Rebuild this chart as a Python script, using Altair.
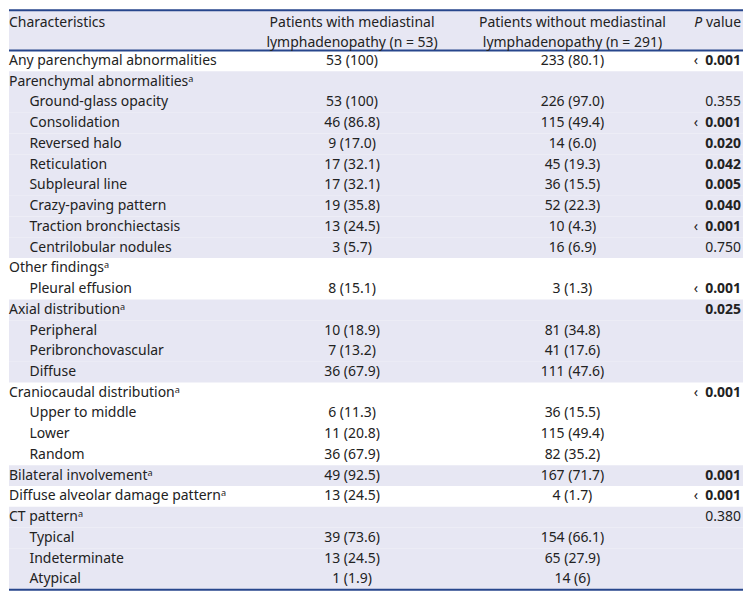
import altair as alt
import pandas as pd

# ---------------- data ----------------
labels = [
    "Any parenchymal abnormalities",
    "Parenchymal abnormalitiesᵃ",
    "Ground-glass opacity",
    "Consolidation",
    "Reversed halo",
    "Reticulation",
    "Subpleural line",
    "Crazy-paving pattern",
    "Traction bronchiectasis",
    "Centrilobular nodules",
    "Other findingsᵃ",
    "Pleural effusion",
    "Axial distributionᵃ",
    "Peripheral",
    "Peribronchovascular",
    "Diffuse",
    "Craniocaudal distributionᵃ",
    "Upper to middle",
    "Lower",
    "Random",
    "Bilateral involvementᵃ",
    "Diffuse alveolar damage patternᵃ",
    "CT patternᵃ",
    "Typical",
    "Indeterminate",
    "Atypical",
]
indent = [0, 0, 1, 1, 1, 1, 1, 1, 1, 1, 0, 1, 0, 1, 1, 1, 0, 1, 1, 1, 0, 0, 0, 1, 1, 1]
with_lad = [
    "53 (100)", "", "53 (100)", "46 (86.8)", "9 (17.0)", "17 (32.1)", "17 (32.1)",
    "19 (35.8)", "13 (24.5)", "3 (5.7)", "", "8 (15.1)", "", "10 (18.9)", "7 (13.2)",
    "36 (67.9)", "", "6 (11.3)", "11 (20.8)", "36 (67.9)", "49 (92.5)", "13 (24.5)",
    "", "39 (73.6)", "13 (24.5)", "1 (1.9)",
]
without_lad = [
    "233 (80.1)", "", "226 (97.0)", "115 (49.4)", "14 (6.0)", "45 (19.3)", "36 (15.5)",
    "52 (22.3)", "10 (4.3)", "16 (6.9)", "", "3 (1.3)", "", "81 (34.8)", "41 (17.6)",
    "111 (47.6)", "", "36 (15.5)", "115 (49.4)", "82 (35.2)", "167 (71.7)", "4 (1.7)",
    "", "154 (66.1)", "65 (27.9)", "14 (6)",
]
p_values = [
    "0.001", "", "0.355", "0.001", "0.020", "0.042", "0.005", "0.040", "0.001", "0.750",
    "", "0.001", "0.025", "", "", "", "0.001", "", "", "", "0.001", "0.001", "0.380",
    "", "", "",
]
p_bold = [1, 0, 0, 1, 1, 1, 1, 1, 1, 0, 0, 1, 1, 0, 0, 0, 1, 0, 0, 0, 1, 1, 0, 0, 0, 0]
p_less = [1, 0, 0, 1, 0, 0, 0, 0, 1, 0, 0, 1, 0, 0, 0, 0, 1, 0, 0, 0, 0, 1, 0, 0, 0, 0]
group = [0, 1, 1, 1, 1, 1, 1, 1, 1, 1, 2, 2, 3, 3, 3, 3, 4, 4, 4, 4, 5, 6, 7, 7, 7, 7]

header_c1 = "Characteristics"
header_c2 = ["Patients with mediastinal", "lymphadenopathy (n = 53)"]
header_c3 = ["Patients without mediastinal", "lymphadenopathy (n = 291)"]
header_p = ["P", "value"]

# ---------------- layout / style ----------------
W, H = 736, 583
FONT = "Noto Sans"
FS = 14
TXT = "#222222"
LINE = "#27468c"
SHADE = "#e7e7f3"

TOP, BOT = -2.463, 25.568
HEAD_TOP, HEAD_BOT, TABLE_BOT = -2.439, -0.5, 25.5
HEAD_L1, HEAD_L2 = -1.82, -0.88

X_LABEL, X_INDENT = 0, 20.5
X_C2, X_C3, X_P = 344, 565, 734

df = pd.DataFrame({
    "row": list(range(len(labels))),
    "label": labels,
    "indent": indent,
    "with_lad": with_lad,
    "without_lad": without_lad,
    "p": p_values,
    "p_bold": p_bold,
    "p_less": p_less,
    "group": group,
})

yscale = alt.Scale(domain=[TOP, BOT], reverse=True, nice=False, zero=False)
base = alt.Chart(df)

shade_rows = base.transform_filter("datum.group % 2 == 1").transform_calculate(
    y0="datum.row - 0.5", y1="datum.row + 0.5"
).mark_rect(color=SHADE).encode(
    y=alt.Y("y0:Q", scale=yscale, axis=None),
    y2="y1:Q",
    x=alt.value(0),
    x2=alt.value(W),
)

head_df = pd.DataFrame({"y0": [HEAD_TOP], "y1": [HEAD_BOT]})
shade_head = alt.Chart(head_df).mark_rect(color=SHADE).encode(
    y=alt.Y("y0:Q", scale=yscale, axis=None), y2="y1:Q",
    x=alt.value(0), x2=alt.value(W),
)

rules_df = pd.DataFrame({"y": [HEAD_TOP, HEAD_BOT, TABLE_BOT]})
rules = alt.Chart(rules_df).mark_rule(color=LINE, strokeWidth=2).encode(
    y=alt.Y("y:Q", scale=yscale, axis=None),
    x=alt.value(0), x2=alt.value(W),
)

txt = dict(font=FONT, fontSize=FS, color=TXT, baseline="middle")

label_text = base.transform_calculate(
    xpos=f"datum.indent ? {X_INDENT} : {X_LABEL}"
).mark_text(align="left", **txt).encode(
    y=alt.Y("row:Q", scale=yscale, axis=None),
    x=alt.X("xpos:Q", scale=None),
    text="label:N",
)

c2_text = base.mark_text(align="center", **txt).encode(
    y=alt.Y("row:Q", scale=yscale, axis=None), x=alt.value(X_C2), text="with_lad:N"
)
c3_text = base.mark_text(align="center", **txt).encode(
    y=alt.Y("row:Q", scale=yscale, axis=None), x=alt.value(X_C3), text="without_lad:N"
)
p_norm = base.transform_filter("datum.p_bold == 0").mark_text(align="right", **txt).encode(
    y=alt.Y("row:Q", scale=yscale, axis=None), x=alt.value(X_P), text="p:N"
)
p_strong = base.transform_filter("datum.p_bold == 1").mark_text(
    align="right", fontWeight="bold", **txt
).encode(
    y=alt.Y("row:Q", scale=yscale, axis=None), x=alt.value(X_P), text="p:N"
)
p_lt = base.transform_filter("datum.p_less == 1").mark_text(
    align="right", font=FONT, fontSize=FS, color=TXT, baseline="middle"
).encode(
    y=alt.Y("row:Q", scale=yscale, axis=None), x=alt.value(X_P - 43), text=alt.value("‹")
)

hdr = pd.DataFrame({
    "y": [HEAD_L1, HEAD_L1, HEAD_L2, HEAD_L1, HEAD_L2],
    "t": [header_c1, header_c2[0], header_c2[1], header_c3[0], header_c3[1]],
    "col": [0, 1, 1, 2, 2],
})
hdr_left = alt.Chart(hdr).transform_filter("datum.col == 0").mark_text(align="left", **txt).encode(
    y=alt.Y("y:Q", scale=yscale, axis=None), x=alt.value(X_LABEL), text="t:N"
)
hdr_c2 = alt.Chart(hdr).transform_filter("datum.col == 1").mark_text(align="center", **txt).encode(
    y=alt.Y("y:Q", scale=yscale, axis=None), x=alt.value(X_C2), text="t:N"
)
hdr_c3 = alt.Chart(hdr).transform_filter("datum.col == 2").mark_text(align="center", **txt).encode(
    y=alt.Y("y:Q", scale=yscale, axis=None), x=alt.value(X_C3), text="t:N"
)
hp = pd.DataFrame({"y": [HEAD_L1], "p": [header_p[0]], "v": [header_p[1]]})
hdr_pv = alt.Chart(hp).mark_text(align="right", **txt).encode(
    y=alt.Y("y:Q", scale=yscale, axis=None), x=alt.value(X_P), text="v:N"
)
hdr_pp = alt.Chart(hp).mark_text(align="right", fontStyle="italic", **txt).encode(
    y=alt.Y("y:Q", scale=yscale, axis=None), x=alt.value(X_P - 39), text="p:N"
)

chart = alt.layer(
    shade_head, shade_rows, rules, label_text, c2_text, c3_text,
    p_norm, p_strong, p_lt, hdr_left, hdr_c2, hdr_c3, hdr_pv, hdr_pp,
).properties(width=W, height=H, padding=0).configure_view(stroke=None)

chart.save("out.html", embed_options={"renderer": "svg", "actions": False})
